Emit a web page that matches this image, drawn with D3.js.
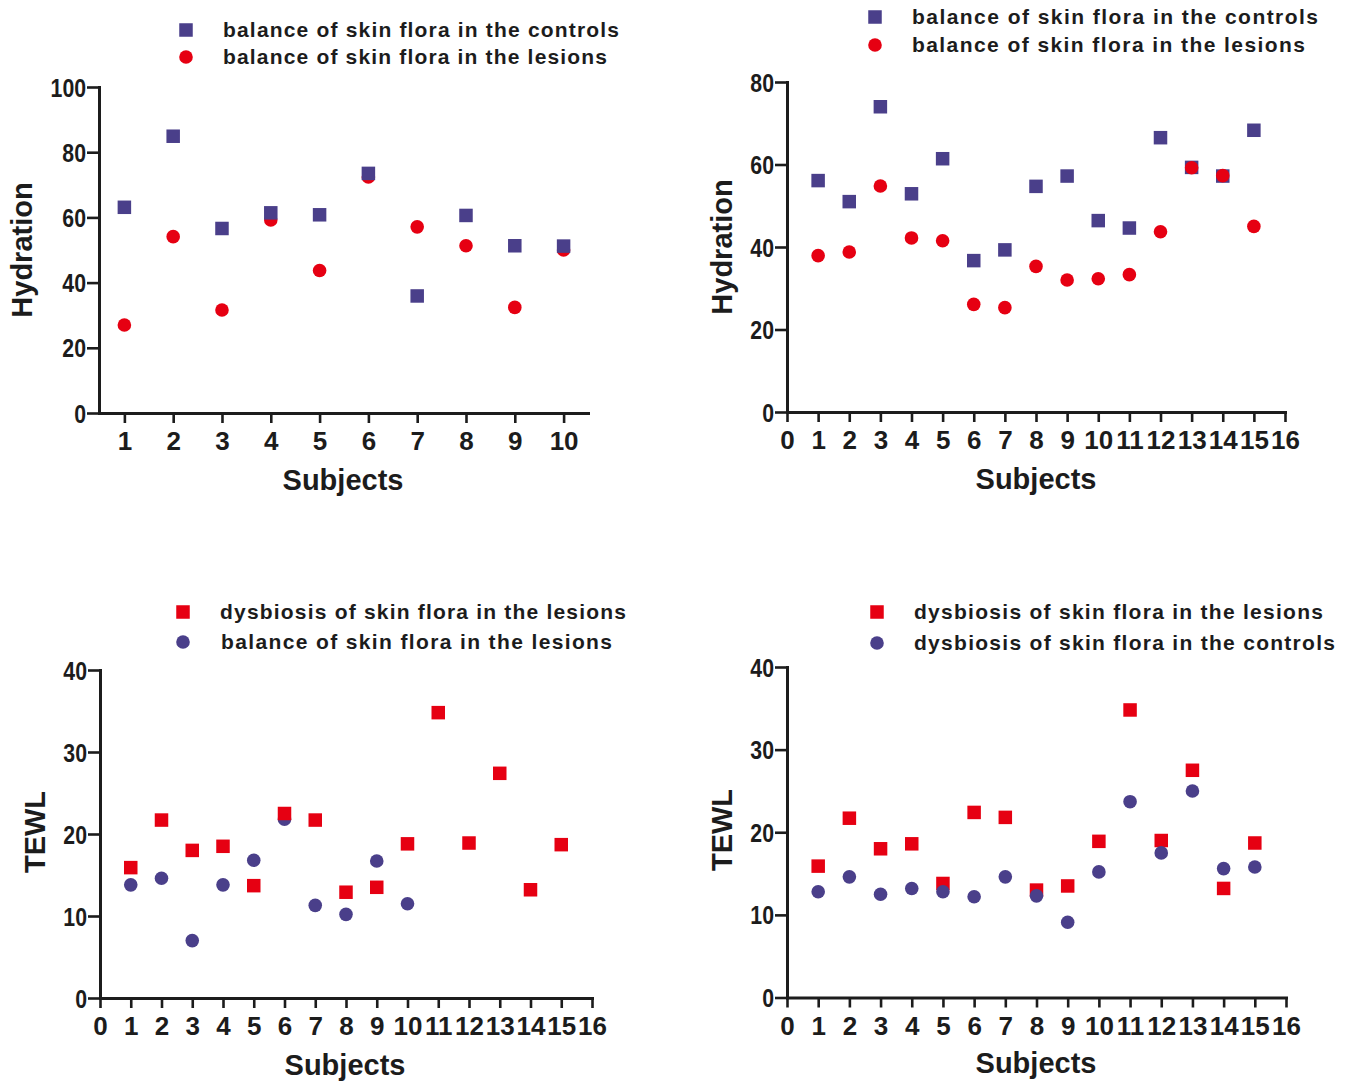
<!DOCTYPE html>
<html>
<head>
<meta charset="utf-8">
<script src="https://cdn.jsdelivr.net/npm/d3@7"></script>
<style>
  body { margin: 0; background: #fff; }
  svg text { font-family: "Liberation Sans", Arial, sans-serif; font-weight: bold; }
</style>
</head>
<body>
<svg id="chart" width="1352" height="1082"></svg>
<script>
// subjects on the x axis
var subjects10 = [1, 2, 3, 4, 5, 6, 7, 8, 9, 10];
var subjects15 = [1, 2, 3, 4, 5, 6, 7, 8, 9, 10, 11, 12, 13, 14, 15];

// tick labels
var ticksX10 = [1, 2, 3, 4, 5, 6, 7, 8, 9, 10];
var ticksX16 = [0, 1, 2, 3, 4, 5, 6, 7, 8, 9, 10, 11, 12, 13, 14, 15, 16];
var ticksHyd100 = [0, 20, 40, 60, 80, 100];
var ticksHyd80 = [0, 20, 40, 60, 80];
var ticksTewl = [0, 10, 20, 30, 40];

// panel A : hydration, 10 subjects
var hydA_controls = [63.1, 84.9, 56.6, 61.4, 60.8, 73.5, 35.9, 60.6, 51.3, 51.2];
var hydA_lesions  = [27.0, 54.1, 31.6, 59.2, 43.7, 72.4, 57.1, 51.3, 32.4, 50.0];

// panel B : hydration, 15 subjects
var hydB_controls = [56.1, 51.0, 74.0, 52.9, 61.4, 36.7, 39.3, 54.7, 57.2, 46.4, 44.6, 66.5, 59.3, 57.2, 68.3];
var hydB_lesions  = [37.9, 38.8, 54.8, 42.2, 41.5, 26.1, 25.3, 35.3, 32.0, 32.3, 33.3, 43.7, 59.2, 57.3, 45.0];

// panel C : TEWL
var tewlC_dysLesions = [15.9, 21.7, 18.0, 18.5, 13.7, 22.5, 21.7, 12.9, 13.5, 18.8, 34.8, 18.9, 27.4, 13.2, 18.7];
var tewlC_balLesions = [13.8, 14.6, 7.0, 13.8, 16.8, 21.8, 11.3, 10.2, 16.7, 11.5];

// panel D : TEWL
var tewlD_dysLesions  = [15.9, 21.7, 18.0, 18.6, 13.8, 22.4, 21.8, 13.0, 13.5, 18.9, 34.8, 19.0, 27.5, 13.2, 18.7];
var tewlD_dysControls = [12.8, 14.6, 12.5, 13.2, 12.8, 12.2, 14.6, 12.3, 9.1, 15.2, 23.7, 17.5, 25.0, 15.6, 15.8];

var NAVY = "#4a3f8a", RED = "#e60012", INK = "#1c1c1c";

var svg = d3.select("#chart");

// each panel: plot box, scales, series (z = drawing order, higher on top)
var panels = [
  { x0: 99, x1: 588, y0: 413, y1: 87, xDom: [0.48, 10.5], yDom: [0, 100],
    xTicks: ticksX10, yTicks: ticksHyd100, ylab: "Hydration", ylabX: 32, ylabY: 250, xlabX: 343, xlabY: 490,
    legX: 186, legY: 30, legGap: 27, legTextX: 223,
    series: [
      { name: "balance of skin flora in the controls", shape: "square", color: NAVY, xs: subjects10, ys: hydA_controls, legW: 396, z: 2 },
      { name: "balance of skin flora in the lesions", shape: "circle", color: RED, xs: subjects10, ys: hydA_lesions, legW: 384, z: 1 }
    ] },
  { x0: 787, x1: 1285, y0: 412, y1: 82, xDom: [0, 16], yDom: [0, 80],
    xTicks: ticksX16, yTicks: ticksHyd80, ylab: "Hydration", ylabX: 732, ylabY: 247, xlabX: 1036, xlabY: 489,
    legX: 875, legY: 17, legGap: 28, legTextX: 912,
    series: [
      { name: "balance of skin flora in the controls", shape: "square", color: NAVY, xs: subjects15, ys: hydB_controls, legW: 406, z: 1 },
      { name: "balance of skin flora in the lesions", shape: "circle", color: RED, xs: subjects15, ys: hydB_lesions, legW: 393, z: 2 }
    ] },
  { x0: 100, x1: 592, y0: 998, y1: 670, xDom: [0, 16], yDom: [0, 40],
    xTicks: ticksX16, yTicks: ticksTewl, ylab: "TEWL", ylabX: 45, ylabY: 832, xlabX: 345, xlabY: 1075,
    legX: 183, legY: 612, legGap: 30, legTextX: 220,
    series: [
      { name: "dysbiosis of skin flora in the lesions", shape: "square", color: RED, xs: subjects15, ys: tewlC_dysLesions, legW: 406, z: 2 },
      { name: "balance of skin flora in the lesions", shape: "circle", color: NAVY, xs: subjects10, ys: tewlC_balLesions, legW: 391, z: 1, legDx: 1 }
    ] },
  { x0: 787, x1: 1286, y0: 997.5, y1: 667, xDom: [0, 16], yDom: [0, 40],
    xTicks: ticksX16, yTicks: ticksTewl, ylab: "TEWL", ylabX: 732, ylabY: 830, xlabX: 1036, xlabY: 1073,
    legX: 877, legY: 612, legGap: 31, legTextX: 914,
    series: [
      { name: "dysbiosis of skin flora in the lesions", shape: "square", color: RED, xs: subjects15, ys: tewlD_dysLesions, legW: 409, z: 1 },
      { name: "dysbiosis of skin flora in the controls", shape: "circle", color: NAVY, xs: subjects15, ys: tewlD_dysControls, legW: 421, z: 2 }
    ] }
];

var SQ = 13.5, R = 6.8;

function drawMarker(g, shape, color, cx, cy) {
  if (shape == "square") {
    g.append("rect").attr("x", cx - SQ / 2).attr("y", cy - SQ / 2)
      .attr("width", SQ).attr("height", SQ).attr("fill", color);
  } else {
    g.append("circle").attr("cx", cx).attr("cy", cy).attr("r", R).attr("fill", color);
  }
}

panels.forEach(function (p) {
  var x = d3.scaleLinear().domain(p.xDom).range([p.x0, p.x1]);
  var y = d3.scaleLinear().domain(p.yDom).range([p.y0, p.y1]);
  var g = svg.append("g");

  // axes
  var xAxis = g.append("g").attr("transform", "translate(0," + p.y0 + ")")
    .call(d3.axisBottom(x).tickValues(p.xTicks).tickSize(10).tickSizeOuter(0).tickPadding(9).tickFormat(d3.format("d")));
  var yAxis = g.append("g").attr("transform", "translate(" + p.x0 + ",0)")
    .call(d3.axisLeft(y).tickValues(p.yTicks).tickSize(12).tickSizeOuter(0).tickPadding(1).tickFormat(d3.format("d")));

  [xAxis, yAxis].forEach(function (a) {
    a.select(".domain").attr("stroke", INK).attr("stroke-width", 3).attr("stroke-linecap", "square");
    a.selectAll(".tick line").attr("stroke", INK).attr("stroke-width", 2.6);
    a.selectAll(".tick text").attr("fill", INK);
  });
  xAxis.selectAll(".tick text").style("font-size", "26px");
  // y tick numbers are narrower in the original
  yAxis.selectAll(".tick text").style("font-size", "25px").attr("dy", "0.36em")
    .attr("x", 0).attr("transform", "translate(-13,0) scale(0.85,1)");

  // axis titles
  g.append("text").attr("x", p.xlabX).attr("y", p.xlabY).attr("text-anchor", "middle")
    .attr("fill", INK).style("font-size", "29px").text("Subjects");
  g.append("text").attr("transform", "translate(" + p.ylabX + "," + p.ylabY + ") rotate(-90)")
    .attr("text-anchor", "middle").attr("fill", INK).style("font-size", "29px").text(p.ylab);

  // points, lower z first
  p.series.slice().sort(function (a, b) { return a.z - b.z; }).forEach(function (s) {
    var sg = g.append("g");
    s.xs.forEach(function (d, i) { drawMarker(sg, s.shape, s.color, x(d), y(s.ys[i])); });
  });

  // legend
  p.series.forEach(function (s, i) {
    var ly = p.legY + i * p.legGap;
    drawMarker(g, s.shape, s.color, p.legX, ly);
    g.append("text").attr("x", p.legTextX + (s.legDx || 0)).attr("y", ly + 7)
      .attr("fill", INK).style("font-size", "21px")
      .attr("textLength", s.legW).attr("lengthAdjust", "spacing")
      .text(s.name);
  });
});
</script>
</body>
</html>
